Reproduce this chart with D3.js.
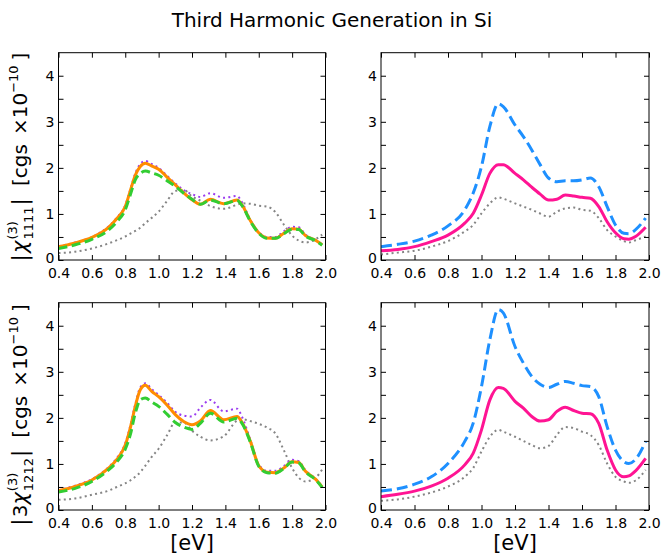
<!DOCTYPE html>
<html>
<head>
<meta charset="utf-8">
<script src="https://cdn.jsdelivr.net/npm/d3@7"></script>
<style>
  body { margin: 0; background: #fff; }
  text { font-family: "DejaVu Sans", sans-serif; }
</style>
</head>
<body>
<svg id="chart" width="664" height="558"></svg>
<script>
// ---- photon energy grids [eV] ----
const energyLeft = [0.40,0.50,0.60,0.70,0.75,0.80,0.83,0.86,0.89,0.92,0.96,1.00,1.05,1.10,1.15,1.20,1.25,1.31,1.39,1.47,1.50,1.55,1.60,1.65,1.70,1.75,1.80,1.84,1.88,1.94,1.98];
const energyRight = [0.40,0.50,0.60,0.70,0.80,0.90,0.95,1.00,1.05,1.10,1.13,1.20,1.25,1.30,1.35,1.40,1.45,1.50,1.55,1.60,1.65,1.70,1.75,1.80,1.85,1.88,1.92,1.98];

// ---- |chi_1111| (x 1e-10 cgs) ----
const chi1111Solid  = [0.29,0.37,0.49,0.71,0.90,1.16,1.50,1.84,2.03,2.10,2.04,1.97,1.80,1.63,1.46,1.31,1.21,1.32,1.22,1.30,1.19,0.85,0.59,0.48,0.47,0.58,0.68,0.67,0.53,0.43,0.33];
const chi1111Purple = [0.30,0.38,0.50,0.73,0.92,1.19,1.53,1.88,2.08,2.15,2.08,2.00,1.83,1.66,1.52,1.43,1.37,1.45,1.35,1.39,1.25,0.87,0.61,0.50,0.50,0.62,0.72,0.71,0.55,0.44,0.34];
const chi1111Green  = [0.25,0.33,0.45,0.65,0.83,1.09,1.41,1.74,1.88,1.93,1.89,1.84,1.72,1.60,1.45,1.32,1.21,1.30,1.22,1.29,1.18,0.84,0.58,0.47,0.47,0.57,0.67,0.66,0.52,0.42,0.32];
const chi1111Gray   = [0.15,0.18,0.25,0.36,0.43,0.51,0.57,0.63,0.70,0.80,0.92,1.05,1.28,1.50,1.52,1.38,1.29,1.17,1.11,1.20,1.23,1.22,1.18,1.16,1.04,0.77,0.53,0.42,0.38,0.45,0.55];

// ---- |3 chi_1212| (x 1e-10 cgs) ----
const chi1212Solid  = [0.42,0.51,0.65,0.91,1.10,1.41,1.78,2.25,2.61,2.71,2.57,2.46,2.28,2.07,1.92,1.85,1.93,2.16,1.96,2.03,1.90,1.49,0.96,0.82,0.81,0.91,1.05,1.03,0.84,0.67,0.50];
const chi1212Purple = [0.43,0.53,0.67,0.93,1.13,1.45,1.83,2.30,2.66,2.75,2.62,2.50,2.33,2.13,2.05,2.03,2.22,2.39,2.14,2.20,2.02,1.52,0.99,0.85,0.85,0.95,1.09,1.06,0.86,0.68,0.51];
const chi1212Green  = [0.39,0.47,0.62,0.87,1.05,1.32,1.63,2.10,2.39,2.43,2.34,2.25,2.08,1.90,1.80,1.75,1.88,2.10,1.91,1.99,1.88,1.47,0.95,0.81,0.80,0.90,1.04,1.02,0.83,0.66,0.49];
const chi1212Gray   = [0.22,0.25,0.33,0.42,0.50,0.58,0.64,0.72,0.82,0.96,1.16,1.33,1.62,1.90,1.90,1.72,1.59,1.51,1.60,1.94,1.97,1.93,1.87,1.79,1.66,1.30,0.91,0.70,0.62,0.70,0.88];

// ---- right column ----
const trBlue  = [0.29,0.34,0.41,0.54,0.74,1.09,1.45,2.03,2.90,3.39,3.33,2.93,2.68,2.39,2.07,1.78,1.70,1.72,1.72,1.74,1.78,1.59,1.16,0.76,0.58,0.57,0.66,0.91];
const trPink  = [0.20,0.23,0.29,0.40,0.54,0.80,1.01,1.41,1.88,2.07,2.07,1.88,1.74,1.58,1.43,1.30,1.32,1.41,1.39,1.36,1.34,1.16,0.83,0.59,0.46,0.45,0.51,0.71];
const trGray  = [0.12,0.16,0.20,0.29,0.41,0.62,0.76,1.01,1.23,1.36,1.33,1.23,1.16,1.09,1.01,0.94,1.05,1.12,1.14,1.09,1.07,0.91,0.65,0.51,0.41,0.38,0.43,0.51];
const brBlue  = [0.41,0.46,0.56,0.72,1.01,1.49,1.88,2.68,3.70,4.35,4.28,3.55,3.19,2.90,2.73,2.66,2.73,2.79,2.75,2.70,2.68,2.46,1.81,1.30,1.05,1.01,1.10,1.49];
const brPink  = [0.29,0.34,0.41,0.52,0.69,0.98,1.23,1.74,2.39,2.66,2.64,2.36,2.21,2.03,1.93,1.96,2.14,2.23,2.16,2.10,2.09,1.88,1.30,0.87,0.72,0.74,0.85,1.12];
const brGray  = [0.20,0.23,0.29,0.38,0.51,0.72,0.91,1.27,1.59,1.74,1.70,1.59,1.50,1.41,1.34,1.39,1.63,1.80,1.78,1.70,1.63,1.41,1.01,0.72,0.62,0.59,0.64,0.87];

// ---- ticks ----
const xTickValues = [0.4,0.6,0.8,1.0,1.2,1.4,1.6,1.8,2.0];
const yTickValues = [0,0.5,1,1.5,2,2.5,3,3.5,4];
const yLabelled   = [0,1,2,3,4];

// ---- line styles ----
const styles = {
  gray:   { stroke: "#858585", width: 2,   dash: "2,3.3" },
  purple: { stroke: "#9b3cf0", width: 2,   dash: "2,3.3" },
  orange: { stroke: "#ff8c00", width: 3,   dash: null },
  green:  { stroke: "#32cd32", width: 3,   dash: "9,4.5" },
  blue:   { stroke: "#1e90ff", width: 3,   dash: "11,5" },
  pink:   { stroke: "#ff1493", width: 3,   dash: null }
};

const svg = d3.select("#chart");

const panels = [
  { left: 58.5, right: 325.5, top: 52.7, bottom: 260, energy: energyLeft,
    series: [[chi1111Gray,"gray"],[chi1111Purple,"purple"],[chi1111Solid,"orange"],[chi1111Green,"green"]] },
  { left: 381, right: 649, top: 52.7, bottom: 260, energy: energyRight,
    series: [[trGray,"gray"],[trPink,"pink"],[trBlue,"blue"]] },
  { left: 58.5, right: 325.5, top: 302.7, bottom: 510, energy: energyLeft,
    series: [[chi1212Gray,"gray"],[chi1212Purple,"purple"],[chi1212Solid,"orange"],[chi1212Green,"green"]], xlabel: true },
  { left: 381, right: 649, top: 302.7, bottom: 510, energy: energyRight,
    series: [[brGray,"gray"],[brPink,"pink"],[brBlue,"blue"]], xlabel: true }
];

panels.forEach(p => {
  const x = d3.scaleLinear().domain([0.4, 2.0]).range([p.left, p.right]);
  const y = d3.scaleLinear().domain([0, 4.5]).range([p.bottom, p.top]);
  const g = svg.append("g");

  const clipId = "clip" + Math.round(p.left) + Math.round(p.top);
  svg.append("clipPath").attr("id", clipId).append("rect")
    .attr("x", p.left).attr("y", p.top).attr("width", p.right - p.left).attr("height", p.bottom - p.top);

  const line = d3.line().x((d, i) => x(p.energy[i])).y(d => y(d)).curve(d3.curveMonotoneX);
  p.series.forEach(([vals, key]) => {
    const s = styles[key];
    g.append("path").datum(vals)
      .attr("clip-path", `url(#${clipId})`)
      .attr("d", line)
      .attr("fill", "none")
      .attr("stroke", s.stroke)
      .attr("stroke-width", s.width)
      .attr("stroke-dasharray", s.dash)
      .attr("stroke-linejoin", "round");
  });

  // inward ticks on all four sides
  const fmtY = d => (yLabelled.includes(d) ? d3.format("d")(d) : "");
  const axB = g.append("g").attr("transform", `translate(0,${p.bottom})`)
    .call(d3.axisBottom(x).tickValues(xTickValues).tickFormat(d3.format(".1f")).tickSizeInner(-5).tickSizeOuter(0).tickPadding(8));
  const axT = g.append("g").attr("transform", `translate(0,${p.top})`)
    .call(d3.axisTop(x).tickValues(xTickValues).tickFormat("").tickSizeInner(-5).tickSizeOuter(0));
  const axL = g.append("g").attr("transform", `translate(${p.left},0)`)
    .call(d3.axisLeft(y).tickValues(yTickValues).tickFormat(fmtY).tickSizeInner(-5).tickSizeOuter(0).tickPadding(4));
  const axR = g.append("g").attr("transform", `translate(${p.right},0)`)
    .call(d3.axisRight(y).tickValues(yTickValues).tickFormat("").tickSizeInner(-5).tickSizeOuter(0));
  [axB, axT, axL, axR].forEach(a => {
    a.select(".domain").remove();
    a.selectAll("line").attr("stroke", "#000").attr("stroke-width", 1);
    a.selectAll("text").attr("font-size", 14).attr("font-family", "DejaVu Sans").attr("fill", "#000");
  });
  // the zero label sits a little above its tick
  axL.selectAll("text").attr("dy", d => (d === 0 ? "0.18em" : "0.32em"));

  g.append("rect").attr("x", p.left).attr("y", p.top)
    .attr("width", p.right - p.left).attr("height", p.bottom - p.top)
    .attr("fill", "none").attr("stroke", "#000").attr("stroke-width", 1);

  if (p.xlabel) {
    g.append("text").attr("x", (p.left + p.right) / 2).attr("y", 550)
      .attr("text-anchor", "middle").attr("font-size", 21).text("[eV]");
  }
});

// title
svg.append("text").attr("x", 332).attr("y", 27).attr("text-anchor", "middle")
  .attr("font-size", 20).text("Third Harmonic Generation in Si");

// rotated y-axis label built from pieces laid out along the baseline
function yLabel(cx, cy, lead, sub) {
  const g = svg.append("g");
  const inner = g.append("g");
  let pos = 0;
  const put = (t, opts) => {
    const el = inner.append("text").attr("x", pos).attr("y", opts.dy || 0)
      .attr("font-size", opts.size).attr("font-family", opts.family || "DejaVu Sans")
      .attr("font-style", opts.italic ? "italic" : null).attr("fill", "#000").text(t);
    return el.node().getComputedTextLength();
  };
  const serif = "DejaVu Serif";
  pos += put("|", { size: 22, family: serif }) + 1;
  if (lead) pos += put(lead, { size: 20, family: serif });
  pos += put("χ", { size: 21, family: serif, italic: true }) + 1;
  const w1 = put("(3)", { size: 13, family: serif, dy: -10 });
  const w2 = put(sub, { size: 13, family: serif, dy: 6 });
  pos += Math.max(w1, w2) + 1;
  pos += put("|", { size: 22, family: serif }) + 12;
  pos += put("[cgs", { size: 20 }) + 9;
  pos += put("×10", { size: 20 });
  pos += put("−10", { size: 13, dy: -9 }) + 5;
  pos += put("]", { size: 20 });
  inner.attr("transform", `translate(${-pos / 2},0)`);
  g.attr("transform", `translate(${cx},${cy}) rotate(-90)`);
}
yLabel(27, 157, "", "1111");
yLabel(27, 415, "3", "1212");
</script>
</body>
</html>
